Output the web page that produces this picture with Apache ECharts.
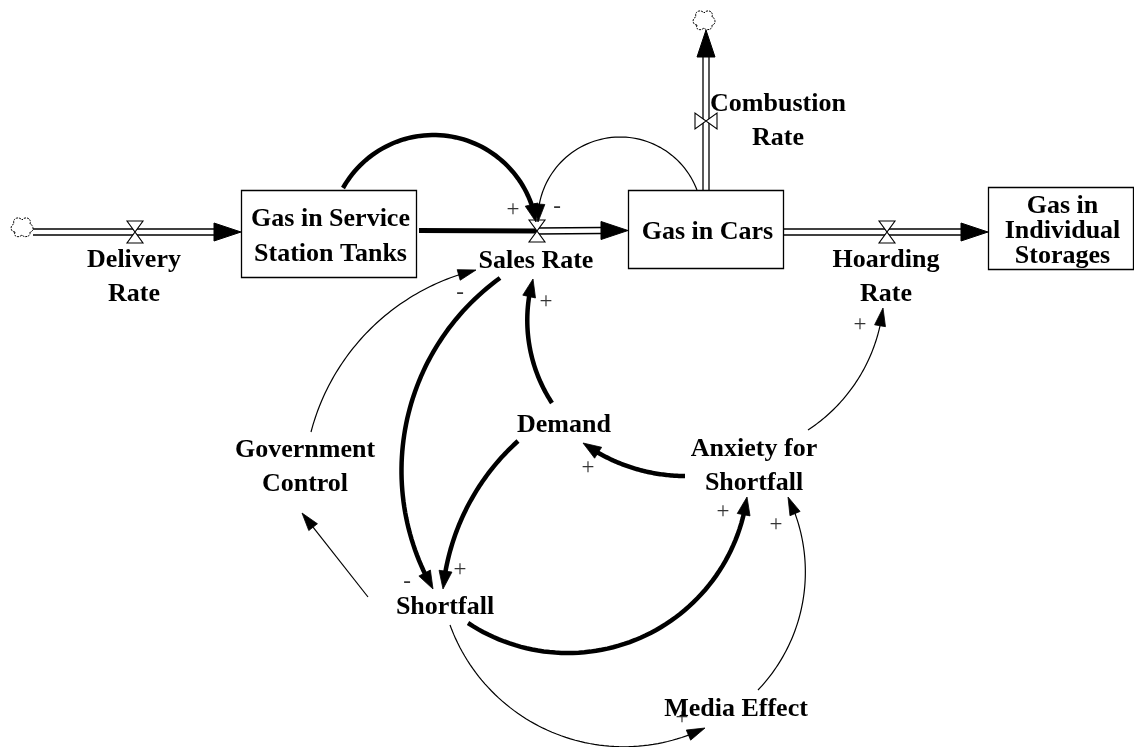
<!DOCTYPE html>
<html>
<head>
<meta charset="utf-8">
<script src="https://cdn.jsdelivr.net/npm/echarts@6/dist/echarts.min.js"></script>
<style>
html,body{margin:0;padding:0;background:#fff;}
#chart{width:1134px;height:747px;}
</style>
</head>
<body>
<div id="chart"></div>
<script>
// ---------------- DATA (diagram coordinates: x to the right, y downward) ----------------
// Stocks (levels)
const stockNames = ['Gas in Service\nStation Tanks', 'Gas in Cars', 'Gas in\nIndividual\nStorages'];
const stockLeft = [241, 628, 988];
const stockTop = [190, 190, 187];
const stockRight = [416, 783, 1133];
const stockBottom = [277, 268, 269];

// Flows (rates): pipe start, pipe end (arrow tip), valve
const flowNames = ['Delivery Rate', 'Sales Rate', 'Hoarding Rate', 'Combustion Rate'];
const flowFrom = [[33, 232], [419, 230.5], [783, 232], [706, 190]];
const flowTo = [[241, 232], [628, 230.5], [988, 232], [706, 30]];
const flowValve = [[135, 232], [537, 231], [887, 232], [706, 121]];
const flowFromLinked = [false, true, false, false];
const clouds = [[22, 227], [704, 20]];

// Auxiliary variables / rate labels
const varNames = ['Delivery\nRate', 'Sales Rate', 'Hoarding\nRate', 'Combustion\nRate', 'Demand',
  'Government\nControl', 'Anxiety for\nShortfall', 'Shortfall', 'Media Effect'];
const varX = [134, 536, 886, 778, 564, 305, 754, 445, 736];
const varY = [275.5, 259, 275.5, 119.5, 423, 465, 464.5, 605, 707];

// Causal links
const linkFrom = ['Gas in Service Station Tanks', 'Gas in Cars', 'Sales Rate', 'Demand', 'Demand',
  'Anxiety for Shortfall', 'Anxiety for Shortfall', 'Shortfall', 'Shortfall', 'Government Control',
  'Shortfall', 'Media Effect'];
const linkTo = ['Sales Rate', 'Sales Rate', 'Shortfall', 'Sales Rate', 'Shortfall', 'Demand',
  'Hoarding Rate', 'Anxiety for Shortfall', 'Government Control', 'Sales Rate', 'Media Effect',
  'Anxiety for Shortfall'];
const linkPolarity = ['+', '-', '-', '+', '+', '+', '+', '+', '', '-', '+', '+'];
const linkStrong = [1, 0, 1, 1, 1, 1, 0, 1, 0, 0, 0, 0];
const linkStart = [[343, 188], [697, 190], [500, 278], [552, 403], [518, 441], [685, 476],
  [808, 430], [468, 623], [368, 597], [311, 432], [450, 625], [758, 690]];
const linkVia = [[433, 135], [620, 137], [405, 430], [528, 335], [457, 530], [633, 468],
  [867, 363], [567, 653], [335, 555], [380, 320], [547, 730], [805, 583]];
const linkEnd = [[536, 222], [538, 222], [433, 589], [533, 279], [443, 589], [583, 443],
  [883, 308], [747, 497], [302, 513], [476, 270], [705, 728], [788, 497]];
const polarityPos = [[513, 210], [557, 207], [407, 582], [546, 302], [460, 570], [588, 468],
  [860, 325], [723, 512], [0, 0], [460, 293], [682, 718], [776, 525]];

// ---------------- RENDERING ----------------
const FONT = '"Liberation Serif", "Times New Roman", serif';
const TEXT_DY = 2;
const chart = echarts.init(document.getElementById('chart'), null, {renderer: 'canvas'});

function circumcircle(a, b, c) {
  const d = 2 * (a[0] * (b[1] - c[1]) + b[0] * (c[1] - a[1]) + c[0] * (a[1] - b[1]));
  if (Math.abs(d) < 1e-6) return null;
  const a2 = a[0] * a[0] + a[1] * a[1], b2 = b[0] * b[0] + b[1] * b[1], c2 = c[0] * c[0] + c[1] * c[1];
  const ux = (a2 * (b[1] - c[1]) + b2 * (c[1] - a[1]) + c2 * (a[1] - b[1])) / d;
  const uy = (a2 * (c[0] - b[0]) + b2 * (a[0] - c[0]) + c2 * (b[0] - a[0])) / d;
  const r = Math.hypot(a[0] - ux, a[1] - uy);
  if (r > 20000) return null;
  return [ux, uy, r];
}

function arrowHead(tip, base, hw) {
  let dx = tip[0] - base[0], dy = tip[1] - base[1];
  const L = Math.hypot(dx, dy) || 1;
  dx /= L; dy /= L;
  const px = -dy, py = dx;
  return [tip, [base[0] + px * hw, base[1] + py * hw], [base[0] - px * hw, base[1] - py * hw]];
}

function renderStock(params, api) {
  const i = params.dataIndex;
  const p0 = api.coord([api.value(0), api.value(1)]);
  const p1 = api.coord([api.value(2), api.value(3)]);
  const x = Math.min(p0[0], p1[0]), y = Math.min(p0[1], p1[1]);
  const w = Math.abs(p1[0] - p0[0]), h = Math.abs(p1[1] - p0[1]);
  const nLines = stockNames[i].split('\n').length;
  return {
    type: 'group',
    children: [
      {type: 'rect', shape: {x: x + 0.5, y: y + 0.5, width: w, height: h},
        style: {fill: '#fff', stroke: '#000', lineWidth: 1.3}},
      {type: 'text', style: {text: stockNames[i], x: x + w / 2 + 2, y: y + h / 2 + 1 + TEXT_DY,
        align: 'center', verticalAlign: 'middle', fill: '#000',
        font: 'bold 26px ' + FONT, lineHeight: nLines > 2 ? 25 : 35}}
    ]
  };
}

function renderFlow(params, api) {
  const i = params.dataIndex;
  const a = api.coord([api.value(0), api.value(1)]);
  const b = api.coord([api.value(2), api.value(3)]);
  const v = api.coord([api.value(4), api.value(5)]);
  let dx = b[0] - a[0], dy = b[1] - a[1];
  const L = Math.hypot(dx, dy);
  dx /= L; dy /= L;
  const px = -dy, py = dx;
  const headL = 27, headW = 9, gap = 3;
  const base = [b[0] - dx * headL, b[1] - dy * headL];
  const children = [];
  let pipeStart = a;
  if (flowFromLinked[i]) {
    children.push({type: 'line', shape: {x1: a[0], y1: a[1], x2: v[0], y2: v[1]},
      style: {stroke: '#000', lineWidth: 5}});
    pipeStart = v;
  }
  [-gap, gap].forEach(function (o) {
    children.push({type: 'line', shape: {
      x1: pipeStart[0] + px * o, y1: pipeStart[1] + py * o,
      x2: base[0] + px * o + dx, y2: base[1] + py * o + dy},
      style: {stroke: '#000', lineWidth: 1.3}});
  });
  children.push({type: 'polygon', shape: {points: arrowHead(b, base, headW)},
    style: {fill: '#000', stroke: '#000', lineWidth: 1}});
  // valve (hourglass across the pipe)
  const vl = 11, vw = 8;
  const ax = [dx * vw, dy * vw], pr = [px * vl, py * vl];
  const pts = [
    [v[0] + pr[0] - ax[0], v[1] + pr[1] - ax[1]],
    [v[0] + pr[0] + ax[0], v[1] + pr[1] + ax[1]],
    [v[0] - pr[0] - ax[0], v[1] - pr[1] - ax[1]],
    [v[0] - pr[0] + ax[0], v[1] - pr[1] + ax[1]]
  ];
  children.push({type: 'polygon', shape: {points: pts},
    style: {fill: '#fff', stroke: '#000', lineWidth: 1.1}});
  return {type: 'group', children: children};
}

function renderCloud(params, api) {
  const c = api.coord([api.value(0), api.value(1)]);
  return {
    type: 'path', x: c[0], y: c[1],
    shape: {pathData: 'M-7,5 C-12,5 -12,-2 -8,-3 C-10,-9 -3,-11 0,-7 C3,-11 10,-9 8,-3 C12,-2 12,5 8,5 C9,10 2,11 0,8 C-3,11 -9,10 -7,5 Z'},
    style: {fill: '#fff', stroke: '#000', lineWidth: 1, lineDash: [2, 1]}
  };
}

function renderVar(params, api) {
  const i = params.dataIndex;
  const p = api.coord([api.value(0), api.value(1)]);
  return {type: 'text', style: {text: varNames[i], x: p[0], y: p[1] + TEXT_DY,
    align: 'center', verticalAlign: 'middle', fill: '#000',
    font: 'bold 26px ' + FONT, lineHeight: 34}};
}

function renderLink(params, api) {
  const i = params.dataIndex;
  const p0 = api.coord([api.value(0), api.value(1)]);
  const pm = api.coord([api.value(2), api.value(3)]);
  const p2 = api.coord([api.value(4), api.value(5)]);
  const strong = linkStrong[i] === 1;
  const lw = strong ? 4.5 : 1.2;
  const headL = 18, headW = strong ? 6.5 : 5.5;
  const c = circumcircle(p0, pm, p2);
  let pts = [], base;
  if (!c) {
    let dx = p2[0] - p0[0], dy = p2[1] - p0[1];
    const L = Math.hypot(dx, dy);
    dx /= L; dy /= L;
    base = [p2[0] - dx * headL, p2[1] - dy * headL];
    pts = [p0, [p2[0] - dx * headL * 0.85, p2[1] - dy * headL * 0.85]];
  } else {
    const cx = c[0], cy = c[1], r = c[2];
    const TWO = Math.PI * 2;
    const norm = function (a) { return ((a % TWO) + TWO) % TWO; };
    const a0 = Math.atan2(p0[1] - cy, p0[0] - cx);
    const am = Math.atan2(pm[1] - cy, pm[0] - cx);
    const a2 = Math.atan2(p2[1] - cy, p2[0] - cx);
    const d2 = norm(a2 - a0), dm = norm(am - a0);
    const sweep = dm < d2 ? d2 : d2 - TWO;
    const sgn = sweep > 0 ? 1 : -1;
    const aEnd = a0 + sweep - sgn * (headL * 0.85) / r;
    const aBase = a0 + sweep - sgn * headL / r;
    base = [cx + r * Math.cos(aBase), cy + r * Math.sin(aBase)];
    const n = 60;
    for (let k = 0; k <= n; k++) {
      const a = a0 + (aEnd - a0) * k / n;
      pts.push([cx + r * Math.cos(a), cy + r * Math.sin(a)]);
    }
  }
  const children = [
    {type: 'polyline', shape: {points: pts}, style: {stroke: '#000', lineWidth: lw, fill: null}},
    {type: 'polygon', shape: {points: arrowHead(p2, base, headW)},
      style: {fill: '#000', stroke: '#000', lineWidth: 0.8}}
  ];
  if (linkPolarity[i]) {
    const pp = api.coord(polarityPos[i]);
    children.push({type: 'text', style: {text: linkPolarity[i], x: pp[0], y: pp[1],
      align: 'center', verticalAlign: 'middle', fill: '#333', font: '23px ' + FONT}});
  }
  return {type: 'group', children: children};
}

const option = {
  backgroundColor: '#ffffff',
  animation: false,
  grid: {left: 0, right: 0, top: 0, bottom: 0},
  xAxis: {type: 'value', min: 0, max: 1134, show: false},
  yAxis: {type: 'value', min: 0, max: 747, inverse: true, show: false},
  series: [
    {type: 'custom', name: 'Flows', renderItem: renderFlow, clip: false,
      data: flowNames.map(function (n, i) {
        return [flowFrom[i][0], flowFrom[i][1], flowTo[i][0], flowTo[i][1], flowValve[i][0], flowValve[i][1]];
      })},
    {type: 'custom', name: 'Clouds', renderItem: renderCloud, clip: false, data: clouds},
    {type: 'custom', name: 'Stocks', renderItem: renderStock, clip: false,
      data: stockNames.map(function (n, i) {
        return [stockLeft[i], stockTop[i], stockRight[i], stockBottom[i]];
      })},
    {type: 'custom', name: 'Links', renderItem: renderLink, clip: false,
      data: linkFrom.map(function (n, i) {
        return [linkStart[i][0], linkStart[i][1], linkVia[i][0], linkVia[i][1], linkEnd[i][0], linkEnd[i][1]];
      })},
    {type: 'custom', name: 'Variables', renderItem: renderVar, clip: false,
      data: varNames.map(function (n, i) { return [varX[i], varY[i]]; })}
  ]
};
chart.setOption(option);
</script>
</body>
</html>
